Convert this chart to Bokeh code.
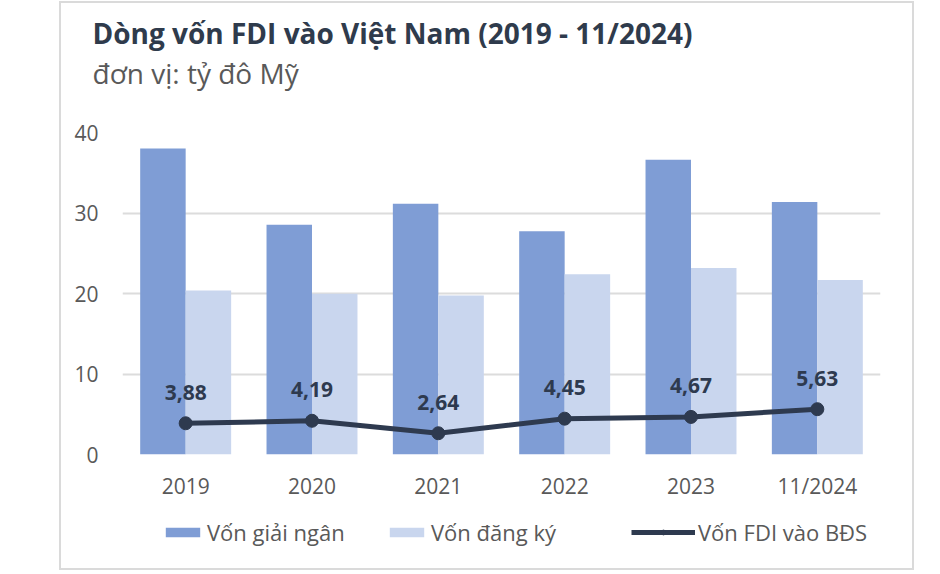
from bokeh.plotting import figure
from bokeh.layouts import column
from bokeh.models import (FactorRange, Range1d, FixedTicker, Legend, LegendItem,
                          ColumnDataSource, Title)
from bokeh.transform import dodge
from bokeh.core.properties import value
from bokeh.embed import file_html
from bokeh.resources import INLINE

# ---- data ----
years = ["2019", "2020", "2021", "2022", "2023", "11/2024"]
von_giai_ngan = [38.02, 28.53, 31.15, 27.72, 36.61, 31.38]
von_dang_ky = [20.38, 19.98, 19.74, 22.40, 23.18, 21.68]
von_fdi_bds = [3.88, 4.19, 2.64, 4.45, 4.67, 5.63]
y_ticks = [0, 10, 20, 30, 40]

title_text = "Dòng vốn FDI vào Việt Nam (2019 - 11/2024)"
subtitle_text = "đơn vị: tỷ đô Mỹ"
legend_labels = ["Vốn giải ngân", "Vốn đăng ký", "Vốn FDI vào BĐS"]

C_DARK = "#7F9DD5"
C_LIGHT = "#C9D6EE"
C_LINE = "#2E3A4F"
C_TEXT = "#595959"
C_TITLE = "#2F3B4C"
FONT = "Open Sans"
W = 930

# ---- main chart ----
src = ColumnDataSource(dict(
    year=years, gn=von_giai_ngan, dk=von_dang_ky, bds=von_fdi_bds,
    lbl=[f"{v:.2f}".replace(".", ",") for v in von_fdi_bds],
))

p = figure(width=W, height=510, x_range=FactorRange(factors=years),
           y_range=Range1d(0, 40), output_backend="svg", toolbar_location=None,
           min_border_left=122, min_border_right=50, min_border_top=132,
           min_border_bottom=56)
p.x_range.range_padding = 0
p.outline_line_color = None
p.background_fill_color = "white"
p.border_fill_color = "white"

bar_w = 0.36
p.vbar(x=dodge("year", -bar_w / 2, range=p.x_range), top="gn", width=bar_w,
       source=src, color=C_DARK, line_color=None)
p.vbar(x=dodge("year", bar_w / 2, range=p.x_range), top="dk", width=bar_w,
       source=src, color=C_LIGHT, line_color=None)
p.line(x="year", y="bds", source=src, line_color=C_LINE, line_width=5)
p.scatter(x="year", y="bds", source=src, size=13, color=C_LINE)
p.text(x="year", y="bds", text="lbl", source=src, text_align="center",
       text_baseline="alphabetic", y_offset=-31, text_font=value(FONT),
       text_font_style="bold", text_font_size="21px", text_color=C_LINE)

p.yaxis.ticker = FixedTicker(ticks=y_ticks)
for ax in (p.xaxis[0], p.yaxis[0]):
    ax.axis_line_color = None
    ax.major_tick_line_color = None
    ax.minor_tick_line_color = None
    ax.major_tick_out = 0
    ax.major_tick_in = 0
    ax.major_label_text_font = FONT
    ax.major_label_text_font_size = "21px"
    ax.major_label_text_color = C_TEXT
p.yaxis.major_label_standoff = 24
p.xaxis.major_label_standoff = 17
p.xgrid.grid_line_color = None
p.ygrid.grid_line_color = "#DCDCDC"
p.ygrid.grid_line_width = 2

# spacer, subtitle, title (stacked upward from the frame)
p.add_layout(Title(text=" ", align="left", standoff=38, text_font_size="1px"), "above")
p.add_layout(Title(text=subtitle_text, align="left", offset=-30, standoff=0,
                   text_font=FONT, text_font_size="28px", text_font_style="normal",
                   text_color=C_TEXT), "above")
p.add_layout(Title(text=title_text, align="left", offset=-30, standoff=0,
                   text_font=FONT, text_font_size="28px", text_font_style="bold",
                   text_color=C_TITLE), "above")

# ---- legend strip (frame aligned with the chart frame) ----
leg = figure(width=W, height=62, x_range=Range1d(0, 1), y_range=Range1d(0, 1),
             output_backend="svg", toolbar_location=None,
             x_axis_location=None, y_axis_location=None,
             min_border_left=122, min_border_right=50, min_border_top=0,
             min_border_bottom=0)
leg.outline_line_color = None
leg.xgrid.visible = False
leg.ygrid.visible = False
leg.border_fill_color = "white"
# legend proxies: one point each, placed outside the strip's visible ranges
proxy = ColumnDataSource(dict(x=[-10.0], y=[-10.0]))
l1 = leg.vbar(x="x", top="y", width=0.1, source=proxy, color=C_DARK, line_color=None)
l2 = leg.vbar(x="x", top="y", width=0.1, source=proxy, color=C_LIGHT, line_color=None)
l3 = leg.line(x="x", y="y", source=proxy, line_color=C_LINE, line_width=5)
l4 = leg.scatter(x="x", y="y", source=proxy, size=13, color=C_LINE)


def add_legend(label, rends, x, gw):
    lg = Legend(items=[LegendItem(label=label, renderers=rends)], location=(x, 25),
                orientation="horizontal", glyph_width=gw, glyph_height=12,
                label_standoff=3, padding=0, margin=0, spacing=0,
                border_line_color=None, background_fill_alpha=0,
                label_text_font=FONT, label_text_font_size="22px",
                label_text_color=C_TEXT)
    leg.add_layout(lg, "center")


add_legend(legend_labels[0], [l1], 39, 43)
add_legend(legend_labels[1], [l2], 263, 43)
add_legend(legend_labels[2], [l3, l4], 509, 64)

layout = column(p, leg, spacing=0)

html = file_html(layout, INLINE)
box = ('<div style="position:absolute;left:59px;top:1px;width:855px;height:569px;'
       'border:2px solid #DADADA;box-sizing:border-box;pointer-events:none;'
       'z-index:5"></div>')
idx = html.rfind("</body>")
if idx != -1:
    html = html[:idx] + box + html[idx:]
open("out.html", "w").write(html)
